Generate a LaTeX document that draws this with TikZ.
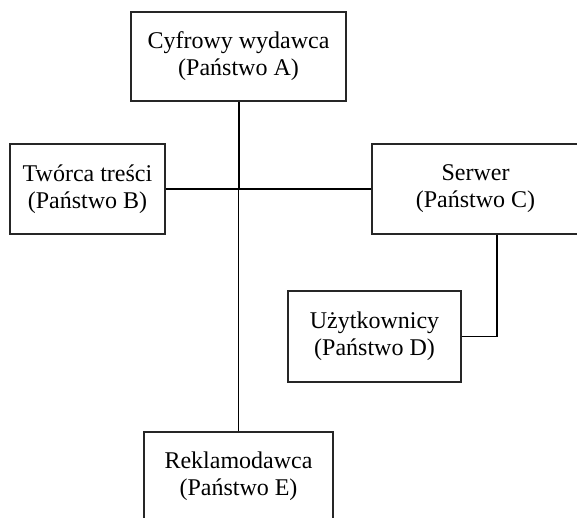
\documentclass[tikz,border=0pt]{standalone}
\usepackage{fontspec}
\setmainfont{Liberation Serif}
\usepackage{tikz}
\usetikzlibrary{positioning}

\tikzset{
  box/.style={draw=black!85, line width=1.2pt, rectangle, align=center,
    font=\fontsize{24}{27}\selectfont, inner sep=0pt},
  link/.style={black, line width=1.2pt}
}

\begin{document}
\begin{tikzpicture}[x=1pt, y=1pt]
\useasboundingbox (0,0) rectangle (577,518);
\node[box, minimum width=215pt, minimum height=89pt] (pub) at (238.5,461.5) {Cyfrowy wydawca\\(Państwo A)};
\node[box, minimum width=155pt, minimum height=90pt] (creator) at (87.5,329) {Twórca treści\\(Państwo B)};
\node[box, minimum width=207pt, minimum height=90pt] (server) at (475.5,329) {Serwer\\(Państwo C)};
\node[box, minimum width=173pt, minimum height=91pt] (users) at (374.5,181.5) {Użytkownicy\\(Państwo D)};
\node[box, minimum width=189pt, minimum height=89pt] (adv) at (238.5,41.5) {Reklamodawca\\(Państwo E)};

\coordinate (hub) at (pub.south |- creator.east);
\coordinate (drop) at (497,0);
\draw[link, line width=2pt] (pub.south)--(hub);
\draw[link] (creator.east)--(server.west);
\draw[link] (hub)--(adv.north);
\draw[link] (drop |- server.south) |- (users.east);
\end{tikzpicture}
\end{document}
